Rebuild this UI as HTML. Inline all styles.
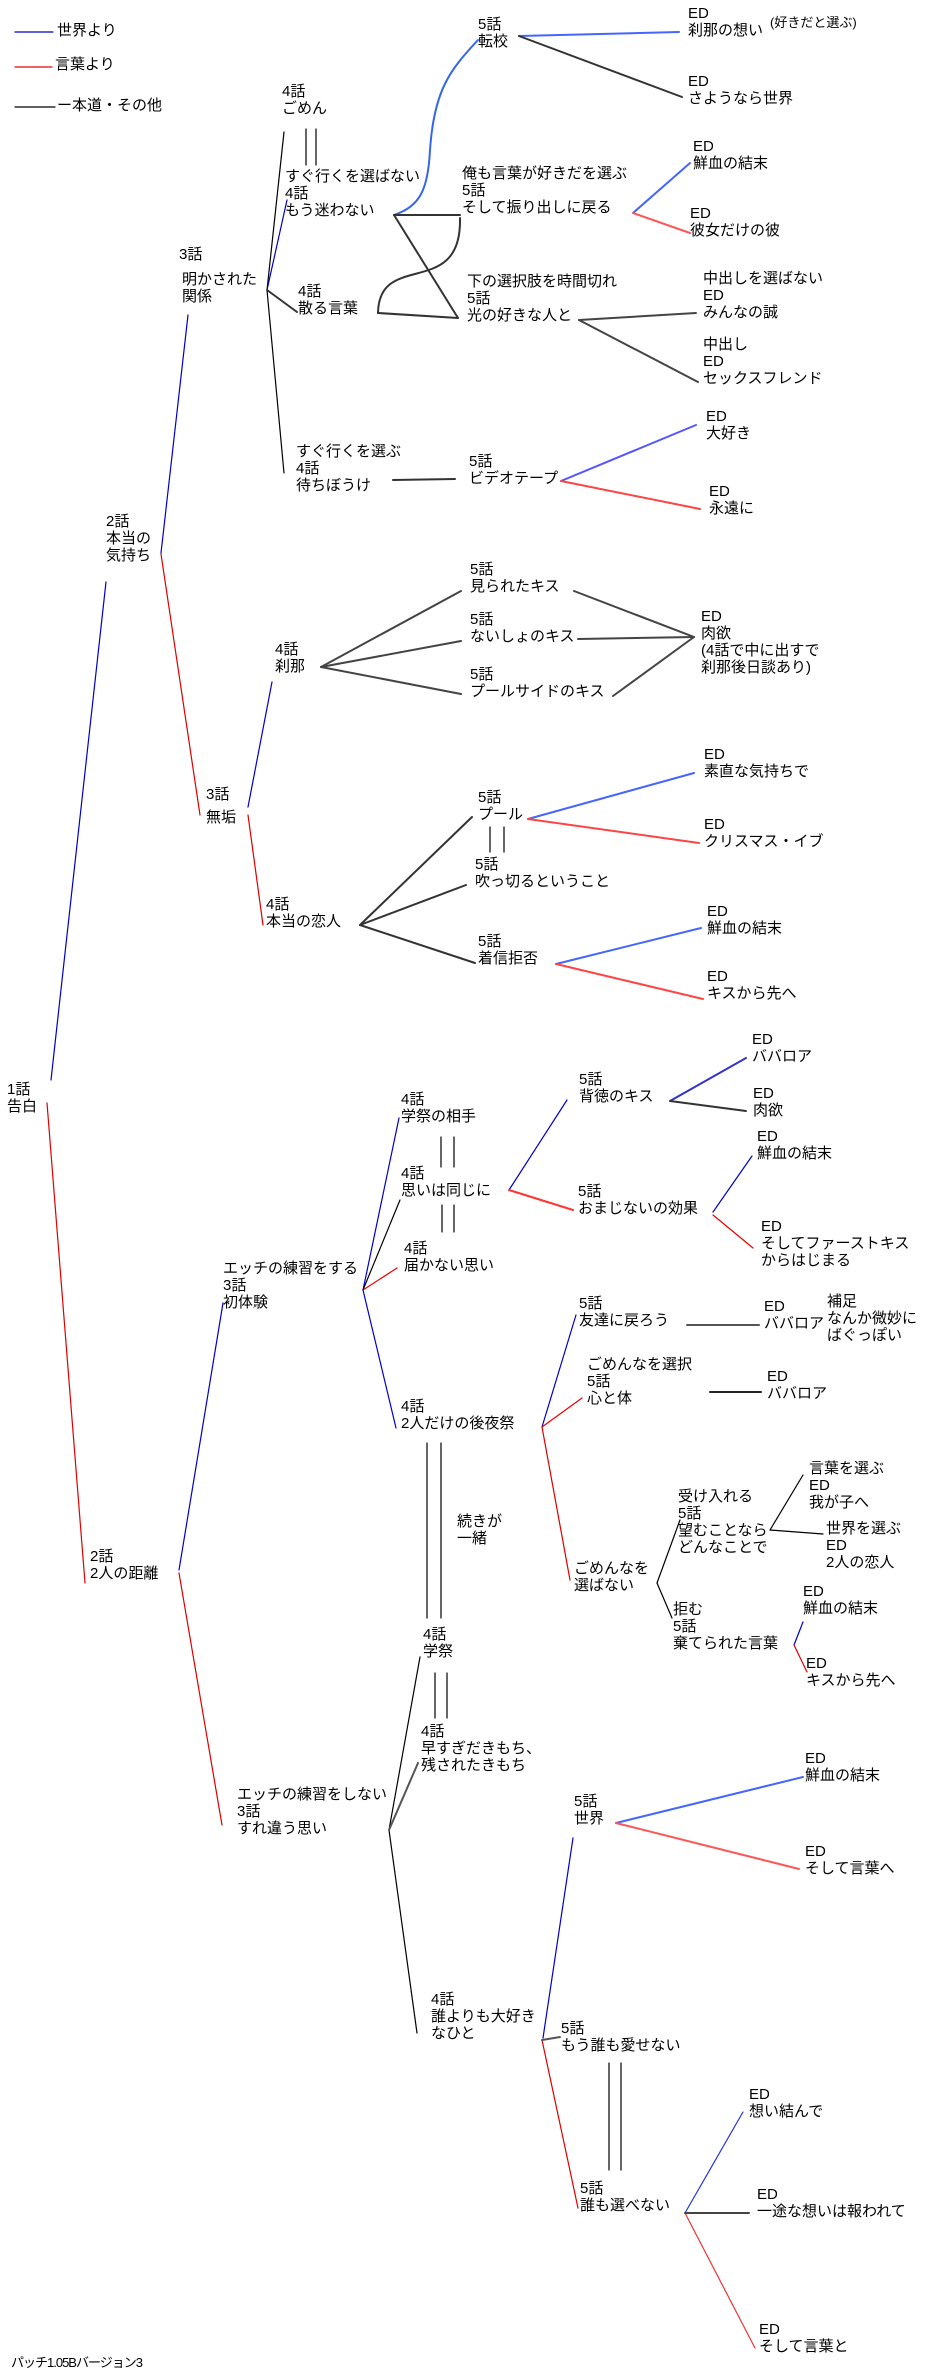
<!DOCTYPE html>
<html><head><meta charset="utf-8">
<style>
html,body{margin:0;padding:0;background:#fff;}
body{width:931px;height:2380px;position:relative;overflow:hidden;font-family:"Liberation Sans","Noto Sans CJK JP",sans-serif;font-size:15px;line-height:17px;color:#000;}
.t{position:absolute;white-space:nowrap;}
svg{position:absolute;left:0;top:0;}
</style></head><body>
<svg width="931" height="2380" viewBox="0 0 931 2380" fill="none" stroke-linecap="round">
<!-- legend -->
<line x1="15" y1="32" x2="53" y2="32" stroke="#00c" stroke-width="1.2"/>
<line x1="15" y1="67" x2="52" y2="67" stroke="#e00" stroke-width="1.2"/>
<line x1="15" y1="107" x2="55" y2="107" stroke="#000" stroke-width="1.2"/>
<!-- thin main tree -->
<g stroke-width="1.2">
<line x1="51" y1="1080" x2="106" y2="582" stroke="#00c"/>
<line x1="47" y1="1103" x2="85" y2="1583" stroke="#d00"/>
<line x1="161" y1="553" x2="188" y2="315" stroke="#00c"/>
<line x1="161" y1="554" x2="200" y2="815" stroke="#d00"/>
<line x1="284" y1="132" x2="267" y2="290" stroke="#000"/>
<line x1="267" y1="290" x2="284" y2="473" stroke="#000"/>
<line x1="267" y1="290" x2="287" y2="200" stroke="#00c"/>
<line x1="248" y1="807" x2="272" y2="682" stroke="#00c"/>
<line x1="248" y1="815" x2="263" y2="925" stroke="#d00"/>
<line x1="179" y1="1570" x2="223" y2="1303" stroke="#00c"/>
<line x1="179" y1="1573" x2="222" y2="1825" stroke="#d00"/>
<line x1="363" y1="1290" x2="399" y2="1118" stroke="#00c"/>
<line x1="363" y1="1290" x2="400" y2="1200" stroke="#000"/>
<line x1="363" y1="1290" x2="397" y2="1268" stroke="#e00"/>
<line x1="363" y1="1290" x2="396" y2="1428" stroke="#00c"/>
<line x1="542" y1="1427" x2="576" y2="1315" stroke="#00c"/>
<line x1="542" y1="1427" x2="582" y2="1398" stroke="#e00"/>
<line x1="542" y1="1427" x2="570" y2="1580" stroke="#d00"/>
<line x1="657" y1="1583" x2="680" y2="1520" stroke="#000"/>
<line x1="657" y1="1583" x2="672" y2="1618" stroke="#000"/>
<line x1="770" y1="1530" x2="803" y2="1475" stroke="#000"/>
<line x1="770" y1="1530" x2="823" y2="1534" stroke="#000"/>
<line x1="794" y1="1645" x2="803" y2="1622" stroke="#00c"/>
<line x1="794" y1="1645" x2="807" y2="1672" stroke="#d00"/>
<line x1="509" y1="1190" x2="567" y2="1100" stroke="#00c"/>
<line x1="713" y1="1212" x2="752" y2="1156" stroke="#00c"/>
<line x1="713" y1="1215" x2="753" y2="1248" stroke="#e00"/>
<line x1="389" y1="1830" x2="420" y2="1657" stroke="#000"/>
<line x1="389" y1="1830" x2="417" y2="2033" stroke="#000"/>
<line x1="573" y1="1838" x2="543" y2="2038" stroke="#00c"/>
<line x1="542" y1="2040" x2="578" y2="2208" stroke="#d00"/>
<line x1="685" y1="2213" x2="743" y2="2112" stroke="#23d"/>
<line x1="685" y1="2213" x2="755" y2="2348" stroke="#e33"/>
</g>
<!-- thick branches -->
<g stroke-width="2">
<line x1="267" y1="290" x2="297" y2="312" stroke="#333"/>
<line x1="509" y1="1190" x2="573" y2="1210" stroke="#f33"/>
<line x1="670" y1="1101" x2="746" y2="1058" stroke="#33c"/>
<line x1="670" y1="1101" x2="746" y2="1111" stroke="#333"/>
<line x1="389" y1="1830" x2="418" y2="1763" stroke="#555"/>
<line x1="542" y1="2040" x2="560" y2="2037" stroke="#555"/>
<line x1="616" y1="1823" x2="803" y2="1777" stroke="#46f"/>
<line x1="616" y1="1823" x2="799" y2="1869" stroke="#f55"/>
<line x1="685" y1="2213" x2="749" y2="2213" stroke="#444"/>
<line x1="519" y1="36" x2="679" y2="32" stroke="#46f"/>
<line x1="519" y1="36" x2="682" y2="97" stroke="#333"/>
<path d="M394,215 C420,206 428,190 430,150 C434,90 450,70 478,40" stroke="#36e"/>
<line x1="394" y1="215" x2="460" y2="215" stroke="#333"/>
<path d="M460,218 C462,300 379,250 378,313" stroke="#333"/>
<line x1="394" y1="215" x2="458" y2="318" stroke="#333"/>
<line x1="378" y1="313" x2="458" y2="318" stroke="#333"/>
<line x1="633" y1="213" x2="690" y2="163" stroke="#46f"/>
<line x1="633" y1="213" x2="690" y2="233" stroke="#f55"/>
<line x1="579" y1="320" x2="696" y2="313" stroke="#444"/>
<line x1="579" y1="320" x2="698" y2="382" stroke="#444"/>
<line x1="393" y1="480" x2="455" y2="479" stroke="#333"/>
<line x1="561" y1="481" x2="696" y2="425" stroke="#55f"/>
<line x1="561" y1="481" x2="700" y2="509" stroke="#f44"/>
<line x1="321" y1="667" x2="461" y2="591" stroke="#444"/>
<line x1="321" y1="667" x2="461" y2="641" stroke="#444"/>
<line x1="321" y1="667" x2="461" y2="694" stroke="#444"/>
<line x1="574" y1="591" x2="694" y2="637" stroke="#444"/>
<line x1="578" y1="639" x2="694" y2="637" stroke="#444"/>
<line x1="613" y1="696" x2="694" y2="637" stroke="#444"/>
<line x1="528" y1="819" x2="694" y2="773" stroke="#46f"/>
<line x1="528" y1="819" x2="699" y2="843" stroke="#f44"/>
<line x1="360" y1="925" x2="472" y2="817" stroke="#333"/>
<line x1="360" y1="925" x2="466" y2="885" stroke="#333"/>
<line x1="360" y1="925" x2="475" y2="963" stroke="#333"/>
<line x1="556" y1="964" x2="701" y2="928" stroke="#46f"/>
<line x1="556" y1="964" x2="703" y2="999" stroke="#f44"/>
<line x1="687" y1="1325" x2="759" y2="1325" stroke="#555"/>
<line x1="710" y1="1392" x2="761" y2="1392" stroke="#222"/>
</g>
<!-- double lines -->
<g stroke="#000" stroke-width="1.2">
<line x1="306" y1="129" x2="306" y2="165"/><line x1="316" y1="129" x2="316" y2="165"/>
<line x1="490" y1="827" x2="490" y2="852"/><line x1="504" y1="827" x2="504" y2="852"/>
<line x1="441" y1="1137" x2="441" y2="1167"/><line x1="454" y1="1137" x2="454" y2="1167"/>
<line x1="442" y1="1205" x2="442" y2="1232"/><line x1="454" y1="1205" x2="454" y2="1232"/>
<line x1="427" y1="1443" x2="427" y2="1618"/><line x1="441" y1="1443" x2="441" y2="1618"/>
<line x1="435" y1="1673" x2="435" y2="1718"/><line x1="447" y1="1673" x2="447" y2="1718"/>
<line x1="609" y1="2063" x2="609" y2="2170"/><line x1="621" y1="2063" x2="621" y2="2170"/>
</g>
</svg>

<div class="t" style="left:57px;top:22px">世界より</div>
<div class="t" style="left:55px;top:56px">言葉より</div>
<div class="t" style="left:57px;top:97px">ー本道・その他</div>

<div class="t" style="left:688px;top:5px">ED<br>刹那の想い</div>
<div class="t" style="left:770px;top:14px;font-size:13px">(好きだと選ぶ)</div>
<div class="t" style="left:478px;top:16px">5話<br>転校</div>
<div class="t" style="left:688px;top:73px">ED<br>さようなら世界</div>
<div class="t" style="left:282px;top:83px">4話<br>ごめん</div>
<div class="t" style="left:285px;top:168px">すぐ行くを選ばない<br>4話<br>もう迷わない</div>
<div class="t" style="left:179px;top:246px">3話</div>
<div class="t" style="left:182px;top:271px">明かされた<br>関係</div>
<div class="t" style="left:298px;top:283px">4話<br>散る言葉</div>
<div class="t" style="left:462px;top:165px">俺も言葉が好きだを選ぶ<br>5話<br>そして振り出しに戻る</div>
<div class="t" style="left:693px;top:138px">ED<br>鮮血の結末</div>
<div class="t" style="left:690px;top:205px">ED<br>彼女だけの彼</div>
<div class="t" style="left:467px;top:273px">下の選択肢を時間切れ<br>5話<br>光の好きな人と</div>
<div class="t" style="left:703px;top:270px">中出しを選ばない<br>ED<br>みんなの誠</div>
<div class="t" style="left:703px;top:336px">中出し<br>ED<br>セックスフレンド</div>
<div class="t" style="left:296px;top:443px">すぐ行くを選ぶ<br>4話<br>待ちぼうけ</div>
<div class="t" style="left:469px;top:453px">5話<br>ビデオテープ</div>
<div class="t" style="left:706px;top:408px">ED<br>大好き</div>
<div class="t" style="left:709px;top:483px">ED<br>永遠に</div>
<div class="t" style="left:106px;top:513px">2話<br>本当の<br>気持ち</div>
<div class="t" style="left:275px;top:641px">4話<br>刹那</div>
<div class="t" style="left:470px;top:561px">5話<br>見られたキス</div>
<div class="t" style="left:470px;top:611px">5話<br>ないしょのキス</div>
<div class="t" style="left:470px;top:666px">5話<br>プールサイドのキス</div>
<div class="t" style="left:701px;top:608px">ED<br>肉欲<br>(4話で中に出すで<br>刹那後日談あり)</div>
<div class="t" style="left:704px;top:746px">ED<br>素直な気持ちで</div>
<div class="t" style="left:206px;top:786px">3話</div>
<div class="t" style="left:206px;top:809px">無垢</div>
<div class="t" style="left:478px;top:789px">5話<br>プール</div>
<div class="t" style="left:704px;top:816px">ED<br>クリスマス・イブ</div>
<div class="t" style="left:475px;top:856px">5話<br>吹っ切るということ</div>
<div class="t" style="left:266px;top:896px">4話<br>本当の恋人</div>
<div class="t" style="left:478px;top:933px">5話<br>着信拒否</div>
<div class="t" style="left:707px;top:903px">ED<br>鮮血の結末</div>
<div class="t" style="left:707px;top:968px">ED<br>キスから先へ</div>
<div class="t" style="left:7px;top:1081px">1話<br>告白</div>
<div class="t" style="left:752px;top:1031px">ED<br>ババロア</div>
<div class="t" style="left:753px;top:1085px">ED<br>肉欲</div>
<div class="t" style="left:579px;top:1071px">5話<br>背徳のキス</div>
<div class="t" style="left:757px;top:1128px">ED<br>鮮血の結末</div>
<div class="t" style="left:401px;top:1091px">4話<br>学祭の相手</div>
<div class="t" style="left:401px;top:1165px">4話<br>思いは同じに</div>
<div class="t" style="left:578px;top:1183px">5話<br>おまじないの効果</div>
<div class="t" style="left:761px;top:1218px">ED<br>そしてファーストキス<br>からはじまる</div>
<div class="t" style="left:404px;top:1240px">4話<br>届かない思い</div>
<div class="t" style="left:223px;top:1260px">エッチの練習をする<br>3話<br>初体験</div>
<div class="t" style="left:579px;top:1295px">5話<br>友達に戻ろう</div>
<div class="t" style="left:764px;top:1298px">ED<br>ババロア</div>
<div class="t" style="left:827px;top:1293px">補足<br>なんか微妙に<br>ばぐっぽい</div>
<div class="t" style="left:587px;top:1356px">ごめんなを選択<br>5話<br>心と体</div>
<div class="t" style="left:767px;top:1368px">ED<br>ババロア</div>
<div class="t" style="left:401px;top:1398px">4話<br>2人だけの後夜祭</div>
<div class="t" style="left:457px;top:1513px">続きが<br>一緒</div>
<div class="t" style="left:678px;top:1488px">受け入れる<br>5話<br>望むことなら<br>どんなことで</div>
<div class="t" style="left:809px;top:1460px">言葉を選ぶ<br>ED<br>我が子へ</div>
<div class="t" style="left:826px;top:1520px">世界を選ぶ<br>ED<br>2人の恋人</div>
<div class="t" style="left:90px;top:1548px">2話<br>2人の距離</div>
<div class="t" style="left:574px;top:1560px">ごめんなを<br>選ばない</div>
<div class="t" style="left:803px;top:1583px">ED<br>鮮血の結末</div>
<div class="t" style="left:673px;top:1601px">拒む<br>5話<br>棄てられた言葉</div>
<div class="t" style="left:806px;top:1655px">ED<br>キスから先へ</div>
<div class="t" style="left:423px;top:1626px">4話<br>学祭</div>
<div class="t" style="left:421px;top:1723px">4話<br>早すぎだきもち、<br>残されたきもち</div>
<div class="t" style="left:237px;top:1786px">エッチの練習をしない<br>3話<br>すれ違う思い</div>
<div class="t" style="left:574px;top:1793px">5話<br>世界</div>
<div class="t" style="left:805px;top:1750px">ED<br>鮮血の結末</div>
<div class="t" style="left:805px;top:1843px">ED<br>そして言葉へ</div>
<div class="t" style="left:431px;top:1991px">4話<br>誰よりも大好き<br>なひと</div>
<div class="t" style="left:561px;top:2020px">5話<br>もう誰も愛せない</div>
<div class="t" style="left:580px;top:2180px">5話<br>誰も選べない</div>
<div class="t" style="left:749px;top:2086px">ED<br>想い結んで</div>
<div class="t" style="left:757px;top:2186px">ED<br>一途な想いは報われて</div>
<div class="t" style="left:759px;top:2321px">ED<br>そして言葉と</div>
<div class="t" style="left:11px;top:2354px;font-size:13px;letter-spacing:-1px">パッチ1.05Bバージョン3</div>
</body></html>
